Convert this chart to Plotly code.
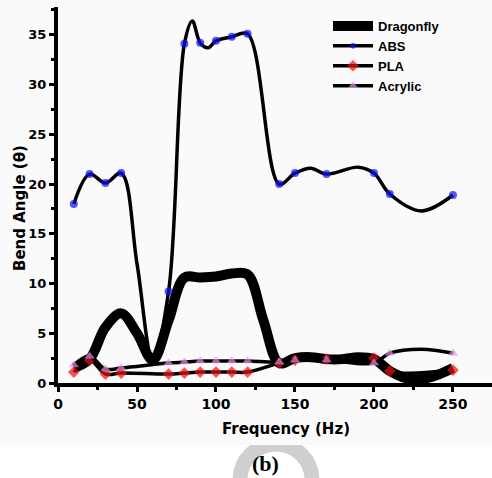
import plotly.graph_objects as go

# ---------------- data ----------------
dragonfly_x = [10, 20, 30, 40, 50, 60, 70, 80, 90, 100, 110, 120, 130, 140, 150, 160, 170, 180, 190, 200, 210, 220, 230, 240, 250]
dragonfly_y = [1.5, 2.4, 5.6, 7.0, 5.0, 2.3, 6.3, 10.6, 10.6, 10.7, 11.0, 10.9, 6.3, 2.0, 2.5, 2.6, 2.4, 2.4, 2.6, 2.4, 1.2, 0.5, 0.4, 0.8, 1.5]

abs_x = [10, 20, 30, 40, 50, 60, 70, 80, 85, 90, 95, 100, 110, 120, 140, 150, 160, 170, 190, 200, 210, 230, 250]
abs_y = [18.0, 21.0, 20.1, 21.1, 12.0, 2.3, 9.2, 34.1, 36.4, 34.2, 33.7, 34.4, 34.8, 35.1, 20.0, 21.1, 21.6, 21.0, 21.7, 21.1, 19.0, 17.3, 18.9]

pla_x = [10, 20, 30, 40, 70, 80, 90, 100, 110, 120, 140, 150, 170, 200, 210, 250]
pla_y = [1.1, 2.3, 0.9, 1.0, 0.9, 1.0, 1.1, 1.1, 1.1, 1.1, 2.0, 2.3, 2.4, 2.5, 1.2, 1.3]

acrylic_x = [10, 20, 30, 40, 70, 80, 90, 100, 110, 120, 140, 150, 170, 200, 210, 230, 250]
acrylic_y = [1.8, 2.7, 1.4, 1.5, 2.0, 2.1, 2.2, 2.2, 2.2, 2.2, 2.1, 2.3, 2.3, 2.0, 3.0, 3.4, 3.0]

marked_freqs = [10, 20, 30, 40, 70, 80, 90, 100, 110, 120, 140, 150, 170, 200, 210, 250]

x_ticks = [0, 50, 100, 150, 200, 250]
y_ticks = [0, 5, 10, 15, 20, 25, 30, 35]

series_names = ["Dragonfly", "ABS", "PLA", "Acrylic"]
x_title = "Frequency (Hz)"
y_title = "Bend Angle (θ)"
panel_label = "(b)"

# ---------------- layout helpers ----------------
W, H = 492, 478
L, R, T, B = 58, 0, 7, 95
PW, PH = W - L - R, H - T - B


def px_x(p):
    return (p - L) / PW


def px_y(p):
    return (H - B - p) / PH


def sizes(xs, s):
    return [s if x in marked_freqs else 0 for x in xs]


TICKFONT = "DejaVu Sans"
fig = go.Figure()

fig.add_trace(go.Scatter(
    x=dragonfly_x, y=dragonfly_y, name=series_names[0], mode="lines",
    line=dict(color="black", width=10, shape="spline", smoothing=1.0),
    cliponaxis=False,
))
fig.add_trace(go.Scatter(
    x=abs_x, y=abs_y, name=series_names[1], mode="lines+markers",
    line=dict(color="black", width=3.5, shape="spline", smoothing=1.0),
    marker=dict(color="#0a14f0", symbol="circle", size=sizes(abs_x, 8), line=dict(width=0)),
    cliponaxis=False,
))
fig.add_trace(go.Scatter(
    x=pla_x, y=pla_y, name=series_names[2], mode="lines+markers",
    line=dict(color="black", width=3.5, shape="spline", smoothing=1.0),
    marker=dict(color="#f01010", symbol="diamond", size=sizes(pla_x, 9), line=dict(width=0)),
    cliponaxis=False,
))
fig.add_trace(go.Scatter(
    x=acrylic_x, y=acrylic_y, name=series_names[3], mode="lines+markers",
    line=dict(color="black", width=3.5, shape="spline", smoothing=1.0),
    marker=dict(color="#e58ce6", symbol="triangle-up", size=sizes(acrylic_x, 9), line=dict(width=0)),
    cliponaxis=False,
))

shapes = [
    # watermark ring at bottom
    dict(type="circle", xref="paper", yref="paper", layer="below",
         x0=px_x(276 - 36), x1=px_x(276 + 36), y0=px_y(480 + 36), y1=px_y(480 - 36),
         line=dict(color="#cfcfcf", width=15), fillcolor="rgba(0,0,0,0)"),
    # slightly grey chart background covering the ring top
    dict(type="rect", xref="paper", yref="paper", layer="below",
         x0=px_x(0), x1=px_x(W), y0=px_y(445), y1=px_y(0),
         line=dict(width=0), fillcolor="#fafafa"),
]

annotations = [
    dict(text=f"<b>{x_title}</b>", xref="paper", yref="paper", x=px_x(286), y=px_y(429),
         showarrow=False, font=dict(family=TICKFONT, size=15, color="black"),
         xanchor="center", yanchor="middle"),
    dict(text=f"<b>{y_title}</b>", xref="paper", yref="paper", x=px_x(20), y=px_y(208),
         showarrow=False, textangle=-90, font=dict(family=TICKFONT, size=15, color="black"),
         xanchor="center", yanchor="middle"),
    dict(text=f"<b>{panel_label}</b>", xref="paper", yref="paper", x=px_x(265), y=px_y(463),
         showarrow=False, font=dict(family="Liberation Serif", size=22, color="black"),
         xanchor="center", yanchor="middle"),
]

fig.update_layout(
    width=W, height=H,
    margin=dict(l=L, r=R, t=T, b=B, pad=0),
    paper_bgcolor="white", plot_bgcolor="#fafafa",
    showlegend=True,
    legend=dict(x=px_x(328), y=px_y(11), xanchor="left", yanchor="top",
                bgcolor="rgba(0,0,0,0)", borderwidth=0,
                font=dict(family="Liberation Sans, Arial", size=13, color="black", weight="bold"),
                itemwidth=40, tracegroupgap=0),
    shapes=shapes, annotations=annotations,
)

fig.update_xaxes(
    range=[0, 274.7], tickvals=x_ticks, ticktext=[f"<b>{v}</b>" for v in x_ticks],
    showline=True, linecolor="black", linewidth=4, mirror=False,
    ticks="outside", ticklen=5, tickwidth=3, tickcolor="black",
    minor=dict(dtick=25, tick0=0, ticks="outside", ticklen=3, tickwidth=3, tickcolor="black"),
    showgrid=False, zeroline=False,
    tickfont=dict(family=TICKFONT, size=14, color="black"),
)
fig.update_yaxes(
    range=[0, 37.8], tickvals=y_ticks, ticktext=[f"<b>{v}</b>" for v in y_ticks],
    showline=True, linecolor="black", linewidth=4, mirror=False,
    ticks="outside", ticklen=5, tickwidth=3, tickcolor="black",
    minor=dict(dtick=2.5, tick0=0, ticks="outside", ticklen=3, tickwidth=3, tickcolor="black"),
    showgrid=False, zeroline=False,
    tickfont=dict(family=TICKFONT, size=13, color="black"),
)

fig.write_html("out.html", config={"displayModeBar": False},
               post_script="document.body.style.margin='0';document.body.style.overflow='hidden';")
